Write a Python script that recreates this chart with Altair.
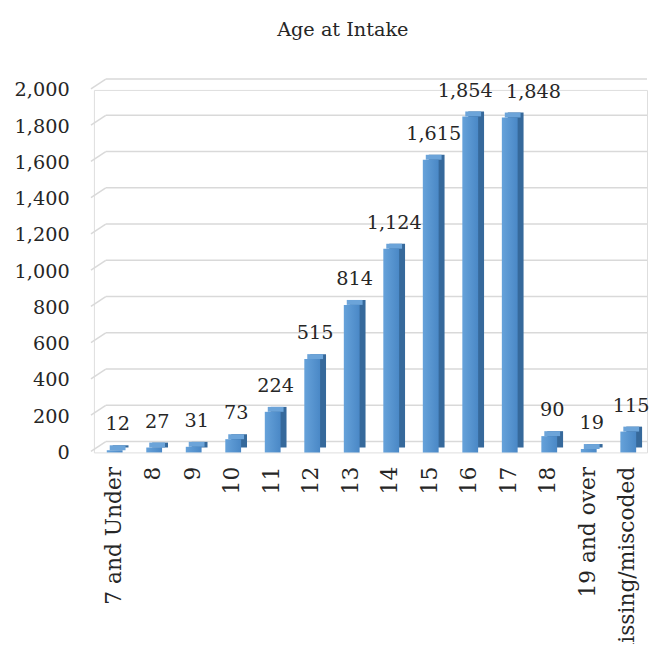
import altair as alt
import pandas as pd

categories = ["7 and Under", "8", "9", "10", "11", "12", "13", "14", "15",
              "16", "17", "18", "19 and over", "missing/miscoded"]
values = [12, 27, 31, 73, 224, 515, 814, 1124, 1615, 1854, 1848, 90, 19, 115]
y_ticks = [0, 200, 400, 600, 800, 1000, 1200, 1400, 1600, 1800, 2000]

df = pd.DataFrame({"age": categories, "count": values})
grid_df = pd.DataFrame({"count": y_ticks})

FONT = "DejaVu Serif"
TXT = "#262626"
W, H = 560, 367

yscale = alt.Scale(domain=[0, 2000], nice=False)
yaxis = alt.Axis(values=y_ticks, format=",d", title=None, domain=False, ticks=False,
                 grid=False, labelFont=FONT, labelFontSize=19.5, labelColor=TXT,
                 labelPadding=25)
xscale = alt.Scale(paddingInner=0, paddingOuter=0)
xaxis = alt.Axis(title=None, domain=False, ticks=False, labelAngle=-90,
                 labelFont=FONT, labelFontSize=22, labelColor=TXT, labelPadding=14,
                 labelLimit=400, labelAlign="right", labelBaseline="middle")

X = alt.X("age:N", sort=categories, scale=xscale, axis=xaxis)
Y = alt.Y("count:Q", scale=yscale, axis=yaxis)

grid_flat = alt.Chart(grid_df).mark_rule(color="#D9D9D9", strokeWidth=1.5, yOffset=-11).encode(
    y=Y, x=alt.value(12), x2=alt.value(W)
)
grid_slant = alt.Chart(grid_df).mark_rule(color="#D9D9D9", strokeWidth=1.5,
                                          yOffset=-1, y2Offset=-11).encode(
    y=Y, y2=alt.Y2("count:Q"), x=alt.value(-3), x2=alt.value(12)
)

side = alt.Chart(df).mark_bar(size=16, xOffset=7, yOffset=-5, y2Offset=-5,
                              color="#36699B").encode(x=X, y=Y)
top = alt.Chart(df).mark_bar(size=16, xOffset=4, yOffset=-5, y2Offset=0,
                             color="#6CA4D9").encode(x=X, y=Y, y2=alt.Y2("count:Q"))
front = alt.Chart(df).mark_bar(
    size=16, xOffset=1,
    color=alt.Gradient(
        gradient="linear",
        stops=[alt.GradientStop(color="#66A2DA", offset=0),
               alt.GradientStop(color="#4A88C6", offset=1)],
        x1=0, x2=1, y1=0, y2=0,
    ),
).encode(x=X, y=Y)

def value_labels(dx, keep=None, drop=None):
    base = alt.Chart(df)
    if keep is not None:
        base = base.transform_filter(alt.FieldOneOfPredicate(field="age", oneOf=keep))
    if drop is not None:
        base = base.transform_filter(~alt.FieldOneOfPredicate(field="age", oneOf=drop))
    return base.mark_text(font=FONT, fontSize=19.5, color=TXT, dx=dx, dy=-20,
                          baseline="alphabetic").encode(
        x=X, y=Y, text=alt.Text("count:Q", format=",d")
    )

labels_main = value_labels(4, drop=["16", "17"])
labels_16 = value_labels(-4, keep=["16"])
labels_17 = value_labels(25, keep=["17"])

chart = alt.layer(grid_flat, grid_slant, side, top, front,
                  labels_main, labels_16, labels_17).properties(
    width=W, height=H,
    title=alt.Title("Age at Intake", font=FONT, fontSize=19.5, fontWeight="normal",
                    color=TXT, frame="group", offset=38, dx=-28, anchor="middle"),
    autosize=alt.AutoSizeParams(type="none"),
    padding={"left": 87, "top": 79, "right": 2, "bottom": 190},
).configure_view(stroke=None).configure(background="white")

chart.save("out.html", embed_options={"renderer": "svg", "actions": False})
